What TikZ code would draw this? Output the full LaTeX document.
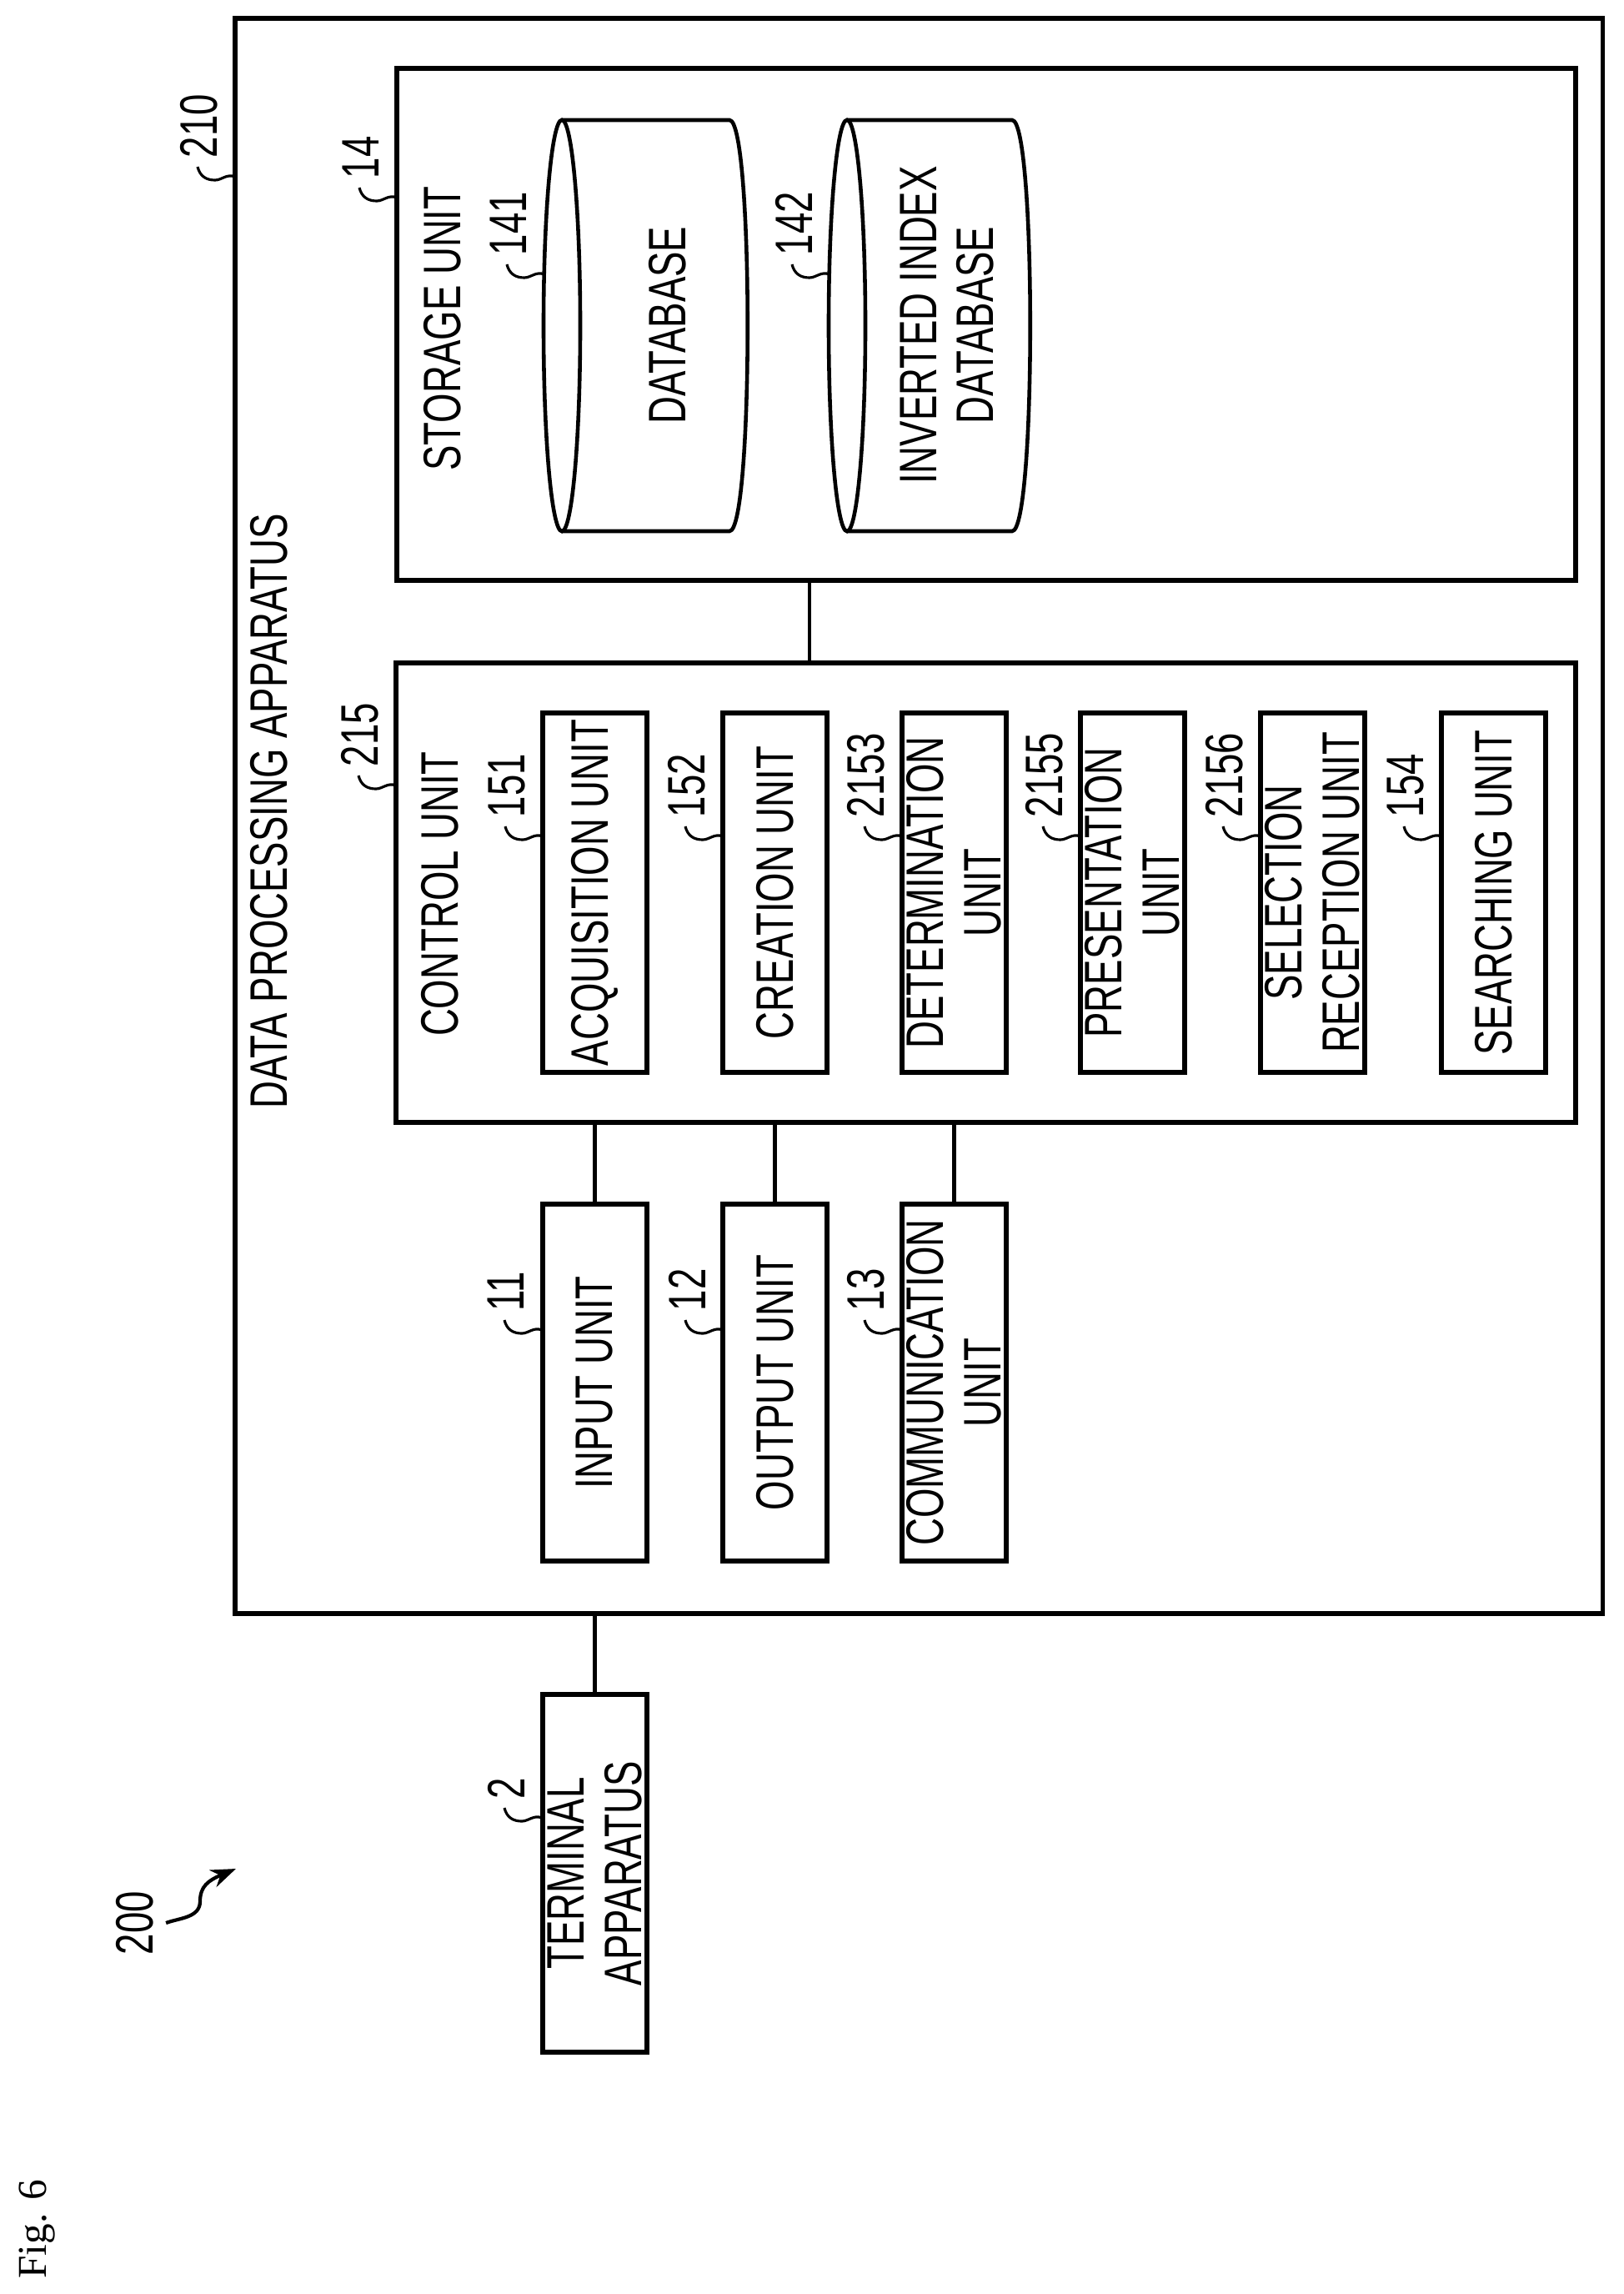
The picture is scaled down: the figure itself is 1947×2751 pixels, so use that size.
\documentclass[tikz,border=0pt]{standalone}
\usepackage{fontspec}
\usetikzlibrary{arrows.meta}
\newfontfamily\unitfamily[FakeStretch=0.72]{Liberation Sans}
\newfontfamily\figfamily{Liberation Serif}
\newcommand\ufont{\unitfamily\fontsize{18pt}{19.6pt}\selectfont}
% reference numeral with its little squiggle
\newcommand\reflabel[3]{%
  \begin{scope}[shift={#2}]
    \draw[squig] (0,0) .. controls (-10,-4) and (-16,4) .. (-24,4)
                       .. controls (-34,4) and (-42,0) .. (-45,-12);
    \node[num] (#1) at (-43,-22) {#3};
  \end{scope}}
\tikzset{
  box/.style={draw,line width=1.7pt,rotate=90,inner sep=0pt,font=\ufont,align=center},
  txt/.style={rotate=90,inner sep=0pt,font=\ufont,align=center},
  num/.style={rotate=90,anchor=west,inner sep=0pt,font=\ufont},
  squig/.style={line width=0.9pt},
  link/.style={line width=1.2pt},
  cyl/.style={line width=1.3pt}
}
\begin{document}
\begin{tikzpicture}[x=0.01cm,y=-0.01cm]
\useasboundingbox (0,0) rectangle (1947,2751);

% apparatus frame and its blocks
\node[box,minimum width=19.11cm,minimum height=16.4cm] (dpa) at (1102,978.5) {};
\node[txt] (dpatxt) at (323,973) {DATA PROCESSING APPARATUS};
\node[box,minimum width=6.14cm,minimum height=14.14cm] (storage) at (1183,389) {};
\node[txt] (stortxt) at (531,394) {STORAGE UNIT};
\node[box,minimum width=5.51cm,minimum height=14.15cm] (control) at (1182.5,1070.5) {};
\node[txt] (ctrltxt) at (528,1072) {CONTROL UNIT};

% databases
\draw[cyl] (674,390.5) ellipse [x radius=0.22cm,y radius=2.465cm];
\draw[cyl] (674,144) -- (875,144) .. controls (904,144) and (904,637) .. (875,637) -- (674,637);
\node[txt] (db) at (801,390) {DATABASE};
\draw[cyl] (1016,390.5) ellipse [x radius=0.22cm,y radius=2.465cm];
\draw[cyl] (1016,144) -- (1214,144) .. controls (1243,144) and (1243,637) .. (1214,637) -- (1016,637);
\node[txt] (idb) at (1136,390) {INVERTED INDEX\\DATABASE};

% units inside the control unit
\foreach \nm/\cx/\lb in {acq/713.5/ACQUISITION UNIT, cre/929.5/CREATION UNIT,
    det/1144.5/DETERMINATION\\UNIT, pre/1358.5/PRESENTATION\\UNIT,
    sel/1574.5/SELECTION\\RECEPTION UNIT, sea/1791.5/SEARCHING UNIT}
  \node[box,minimum width=4.31cm,minimum height=1.25cm] (\nm) at (\cx,1070.5) {\lb};

% input / output / communication
\foreach \nm/\cx/\lb in {inp/713.5/INPUT UNIT, out/929.5/OUTPUT UNIT,
    com/1144.5/COMMUNICATION\\UNIT}
  \node[box,minimum width=4.28cm,minimum height=1.25cm] (\nm) at (\cx,1658) {\lb};

\node[box,minimum width=4.29cm,minimum height=1.25cm] (term) at (713.5,2246.5) {TERMINAL\\APPARATUS};

% connectors
\coordinate (dbx) at (971,0);
\draw[link] (storage.west -| dbx) -- (control.east -| dbx);
\foreach \nm in {inp,out,com}
  \draw[link] (\nm.east) -- (control.west -| \nm.east);
\draw[link] (term.east) -- (dpa.west -| term.east);

% reference numerals
\reflabel{l210}{(282,212)}{210}
\reflabel{l14}{(476,237)}{14}
\reflabel{l141}{(653,329)}{141}
\reflabel{l142}{(995,329)}{142}
\reflabel{l215}{(475,942)}{215}
\reflabel{l151}{(651,1003)}{151}
\reflabel{l152}{(867,1003)}{152}
\reflabel{l2153}{(1082,1003)}{2153}
\reflabel{l2155}{(1296,1003)}{2155}
\reflabel{l2156}{(1512,1003)}{2156}
\reflabel{l154}{(1729,1003)}{154}
\reflabel{l11}{(650,1595)}{11}
\reflabel{l12}{(867,1595)}{12}
\reflabel{l13}{(1082,1595)}{13}
\reflabel{l2}{(650,2180)}{2}

% system numeral with wavy arrow
\node[txt] (n200) at (162,2306) {200};
\coordinate (tip200) at (283,2241);
\draw[line width=1.2pt,-{Stealth[length=0.3cm,width=0.22cm]}] (n200.south) ++(14,0)
  .. controls (215,2300) and (240,2300) .. (240,2280)
  .. controls (240,2262) and (250,2255) .. (tip200);

\node[rotate=90,inner sep=0pt,font=\figfamily\fontsize{14pt}{16pt}\selectfont] (fig) at (45,2673) {Fig. 6};
\end{tikzpicture}
\end{document}
